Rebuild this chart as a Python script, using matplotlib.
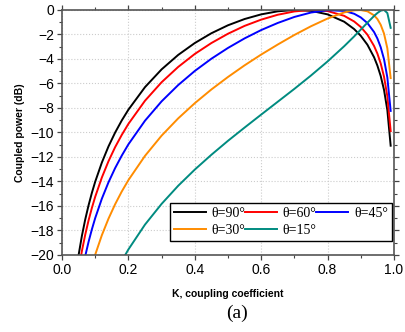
import matplotlib
matplotlib.use('Agg')
import matplotlib.pyplot as plt
from matplotlib.ticker import MultipleLocator

# coupling coefficient K (shared by all curves)
K = [0.04, 0.05, 0.06, 0.07, 0.08, 0.09, 0.10, 0.12, 0.14, 0.16, 0.18, 0.20,
     0.25, 0.30, 0.35, 0.40, 0.45, 0.50, 0.55, 0.60, 0.65, 0.70, 0.75, 0.80,
     0.85, 0.88, 0.90, 0.92, 0.94, 0.95, 0.96, 0.97, 0.98, 0.99]

# coupled power (dB)
p_90 = [-21.95, -20.01, -18.43, -17.10, -15.95, -14.93, -14.02, -12.46, -11.14, -10.01, -9.02, -8.14,
        -6.30, -4.85, -3.67, -2.70, -1.90, -1.25, -0.74, -0.36, -0.11, -0.00, -0.07, -0.36,
        -0.96, -1.56, -2.11, -2.84, -3.86, -4.54, -5.39, -6.53, -8.18, -11.08]
p_60 = [-23.19, -21.26, -19.67, -18.34, -17.18, -16.16, -15.25, -13.68, -12.35, -11.20, -10.20, -9.30,
        -7.41, -5.90, -4.65, -3.59, -2.70, -1.94, -1.30, -0.79, -0.39, -0.12, -0.00, -0.09,
        -0.48, -0.94, -1.39, -2.02, -2.94, -3.56, -4.37, -5.45, -7.04, -9.89]
p_45 = [-24.95, -23.01, -21.43, -20.09, -18.93, -17.91, -16.99, -15.41, -14.07, -12.91, -11.89, -10.97,
        -9.04, -7.46, -6.13, -4.98, -3.98, -3.10, -2.32, -1.64, -1.06, -0.57, -0.21, -0.02,
        -0.08, -0.31, -0.61, -1.07, -1.80, -2.33, -3.04, -4.02, -5.51, -8.24]
p_30 = [-27.96, -26.02, -24.43, -23.09, -21.92, -20.90, -19.98, -18.39, -17.04, -15.86, -14.82, -13.89,
        -11.91, -10.26, -8.85, -7.61, -6.49, -5.47, -4.52, -3.64, -2.82, -2.04, -1.33, -0.70,
        -0.20, -0.03, -0.01, -0.11, -0.44, -0.74, -1.21, -1.93, -3.13, -5.56]
p_15 = [-33.67, -31.73, -30.14, -28.80, -27.63, -26.60, -25.68, -24.08, -22.72, -21.54, -20.49, -19.55,
        -17.52, -15.83, -14.35, -13.03, -11.82, -10.68, -9.60, -8.54, -7.49, -6.44, -5.35, -4.20,
        -2.96, -2.16, -1.60, -1.04, -0.49, -0.25, -0.06, -0.00, -0.25, -1.46]

labels = ['θ=90°', 'θ=60°', 'θ=45°', 'θ=30°', 'θ=15°']
colors = ['black', '#ff0000', '#0000ff', '#ff8c00', '#008b80']

plt.rcParams['font.family'] = ['Liberation Sans', 'DejaVu Sans']

fig = plt.figure(figsize=(4.06, 3.32), dpi=100)
ax = fig.add_axes([0.1527, 0.232, 0.8177, 0.738])

lines = []
for vals, lab, col in zip([p_90, p_60, p_45, p_30, p_15], labels, colors):
    ln, = ax.plot(K, vals, color=col, lw=1.4, label=lab)
    lines.append(ln)

ax.set_xlim(0, 1)
ax.set_ylim(-20, 0)
ax.xaxis.set_major_locator(MultipleLocator(0.2))
ax.xaxis.set_minor_locator(MultipleLocator(0.1))
ax.yaxis.set_major_locator(MultipleLocator(2))
ax.yaxis.set_minor_locator(MultipleLocator(1))
ax.xaxis.set_major_formatter(plt.FuncFormatter(lambda v, p: '%.1f' % v))

ax.tick_params(which='both', direction='out', top=True, right=True,
               color='#444444', labelsize=10, pad=2)
ax.tick_params(which='major', length=3.5, width=0.9)
ax.tick_params(which='minor', length=2, width=0.8)
for s in ax.spines.values():
    s.set_color('#555555')
    s.set_linewidth(1.2)

ax.grid(True, which='major', color='#cccccc', ls=':', lw=0.8)

ax.set_xlabel('K, coupling coefficient', fontsize=7.5, fontweight='bold', labelpad=9)
ax.set_ylabel('Coupled power (dB)', fontsize=7.5, fontweight='bold', labelpad=4)

# legend filled row by row: 90 60 45 / 30 15
order = [0, 3, 1, 4, 2]
leg = ax.legend([lines[i] for i in order], [labels[i] for i in order],
                loc='lower right', bbox_to_anchor=(0.994, 0.057), bbox_transform=ax.transAxes,
                ncol=3, borderaxespad=0, fancybox=False, framealpha=1, edgecolor='black',
                prop={'family': 'Liberation Serif', 'size': 10},
                handlelength=2.3, handletextpad=0.4, columnspacing=0.0,
                labelspacing=0.3, borderpad=0.3)
leg.get_frame().set_linewidth(1.0)

fig.text(0.583, 0.055, '(a)', fontsize=14, family='Liberation Serif', ha='center', va='center')

fig.savefig('out.png', dpi=100)
